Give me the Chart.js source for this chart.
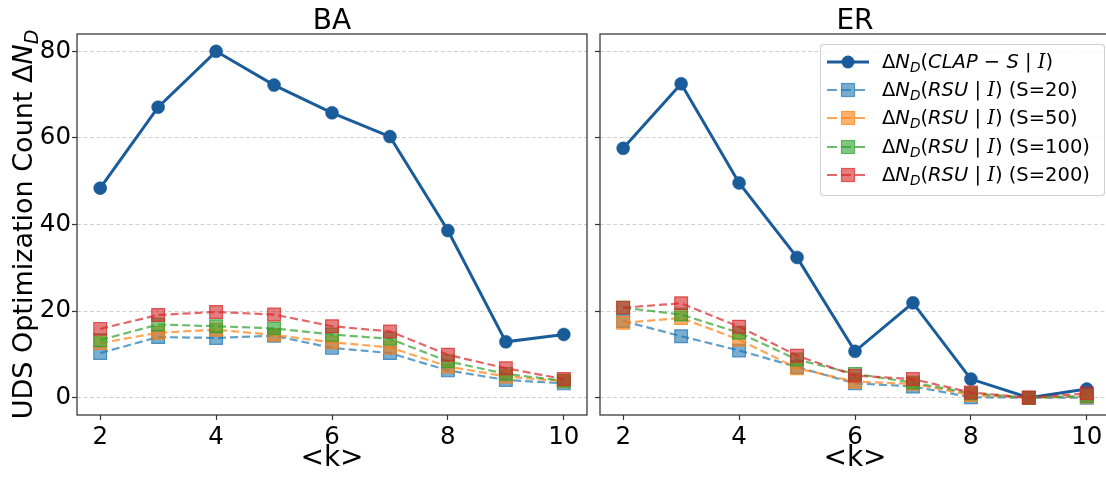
<!DOCTYPE html>
<html>
<head>
<meta charset="utf-8">
<script src="https://cdn.jsdelivr.net/npm/chart.js@4.4.1/dist/chart.umd.min.js"></script>
<style>
  html, body { margin: 0; padding: 0; background: #fff; overflow: hidden; }
  #wrap { position: relative; width: 1106px; height: 477px; overflow: hidden; }
  #leftChart { position: absolute; left: 0; top: 0; }
  #rightChart { position: absolute; left: 590px; top: 0; }
  .legend {
    position: absolute; left: 820px; top: 44px; width: 283px; height: 150px;
    border: 1px solid rgba(204, 204, 204, 0.9); border-radius: 4px;
    background: rgba(255, 255, 255, 0.8);
    font-family: "DejaVu Sans"; font-size: 19.5px; color: #000;
  }
  .row { position: absolute; left: 0; height: 28px; width: 100%; }
  .row svg { position: absolute; left: 6px; top: 6px; }
  .row .txt { position: absolute; left: 61px; top: 0; line-height: 28px; white-space: nowrap; }
  .txt i { font-style: italic; }
  .txt .cal { font-family: "DejaVu Serif"; font-style: italic; }
  .txt sub { font-size: 0.7em; font-style: italic; vertical-align: -0.3em; line-height: 0; }
</style>
</head>
<body>
<div id="wrap">
  <canvas id="leftChart" width="590" height="477"></canvas>
  <canvas id="rightChart" width="530" height="477"></canvas>
  <div class="legend" id="legend"></div>
</div>
<script>
// Data
const kValues = [2, 3, 4, 5, 6, 7, 8, 9, 10];
const xTicks = [2, 4, 6, 8, 10];
const yTicks = [0, 20, 40, 60, 80];
const panelTitles = ["BA", "ER"];
const sizeLabels = ["S=20", "S=50", "S=100", "S=200"];

// BA panel
const baClap = [48.4, 67.1, 80.0, 72.2, 65.8, 60.3, 38.6, 12.9, 14.6];
const baS20 = [10.3, 14.0, 13.8, 14.3, 11.5, 10.3, 6.3, 4.1, 3.3];
const baS50 = [12.6, 15.0, 15.7, 14.5, 12.8, 11.6, 7.2, 4.9, 3.8];
const baS100 = [13.3, 16.9, 16.5, 16.0, 14.6, 13.6, 8.4, 5.5, 3.9];
const baS200 = [15.9, 19.1, 19.8, 19.2, 16.5, 15.3, 9.9, 6.8, 4.3];

// ER panel
const erClap = [57.6, 72.5, 49.6, 32.4, 10.7, 21.9, 4.3, 0.0, 2.0];
const erS20 = [17.7, 14.2, 10.9, 7.1, 3.3, 2.6, 0.1, 0.0, 0.0];
const erS50 = [17.3, 18.4, 13.4, 6.8, 3.7, 3.2, 0.6, 0.0, 0.2];
const erS100 = [20.8, 19.2, 15.0, 8.8, 5.5, 3.5, 1.0, 0.0, 0.4];
const erS200 = [20.8, 21.8, 16.4, 9.7, 5.1, 4.3, 1.2, 0.0, 1.0];

// Colours
const clapColor = "#1a5c99";
const rsuColors = ["31,119,180", "255,127,14", "44,160,44", "214,39,40"];
const FONT = "DejaVu Sans";

const toPoints = (vals) => kValues.map((k, i) => ({ x: k, y: vals[i] }));

function buildDatasets(clap, rsuList) {
    const ds = [{
        label: "CLAP-S",
        data: toPoints(clap),
        borderColor: clapColor,
        backgroundColor: clapColor,
        borderWidth: 3,
        pointStyle: "circle",
        pointRadius: 6.5,
        pointBackgroundColor: clapColor,
        pointBorderColor: clapColor,
        pointBorderWidth: 0.5,
        order: 5
    }];
    rsuList.forEach((vals, i) => {
        const c = rsuColors[i];
        ds.push({
            label: sizeLabels[i],
            data: toPoints(vals),
            borderColor: `rgba(${c},0.7)`,
            backgroundColor: `rgba(${c},0.6)`,
            borderWidth: 2.2,
            borderDash: [8, 4],
            pointStyle: "rect",
            pointRadius: 9,
            pointBackgroundColor: `rgba(${c},0.6)`,
            pointBorderColor: `rgba(${c},0.75)`,
            pointBorderWidth: 1.2,
            order: 4 - i
        });
    });
    return ds;
}

// Frame + panel title
const framePlugin = {
    id: "frame",
    afterDraw(chart, args, opts) {
        const { ctx, chartArea: a } = chart;
        ctx.save();
        ctx.strokeStyle = "#333";
        ctx.lineWidth = 1.25;
        ctx.strokeRect(a.left, a.top, a.right - a.left, a.bottom - a.top);
        ctx.fillStyle = "#000";
        ctx.font = `28px "${FONT}"`;
        ctx.textAlign = "center";
        ctx.textBaseline = "alphabetic";
        ctx.fillText(opts.title, (a.left + a.right) / 2, 28.5);
        ctx.restore();
    }
};

// Rotated y label with subscript
const yLabelPlugin = {
    id: "yLabel",
    afterDraw(chart, args, opts) {
        if (!opts.show) return;
        const { ctx, chartArea: a } = chart;
        const parts = [
            { t: "UDS Optimization Count ", f: `27px "${FONT}"`, dy: 0 },
            { t: "Δ", f: `27px "${FONT}"`, dy: 0 },
            { t: "N", f: `italic 27px "${FONT}"`, dy: 0 },
            { t: "D", f: `italic 19px "${FONT}"`, dy: 6 }
        ];
        ctx.save();
        let total = 0;
        parts.forEach(p => { ctx.font = p.f; p.w = ctx.measureText(p.t).width; total += p.w; });
        ctx.translate(32, (a.top + a.bottom) / 2);
        ctx.rotate(-Math.PI / 2);
        ctx.fillStyle = "#000";
        ctx.textAlign = "left";
        ctx.textBaseline = "alphabetic";
        let x = -total / 2;
        parts.forEach(p => { ctx.font = p.f; ctx.fillText(p.t, x, p.dy); x += p.w; });
        ctx.restore();
    }
};

function makeChart(id, datasets, title, showY, yWidth, padRight) {
    return new Chart(document.getElementById(id), {
        type: "line",
        data: { datasets },
        plugins: [framePlugin, yLabelPlugin],
        options: {
            responsive: false,
            animation: false,
            devicePixelRatio: 1,
            layout: { autoPadding: false, padding: { top: 34, right: padRight, left: 0, bottom: 0 } },
            plugins: {
                legend: { display: false },
                tooltip: { enabled: false },
                frame: { title },
                yLabel: { show: showY }
            },
            elements: { line: { tension: 0 } },
            scales: {
                x: {
                    type: "linear",
                    min: 1.6,
                    max: 10.4,
                    afterBuildTicks: (s) => { s.ticks = xTicks.map(v => ({ value: v })); },
                    afterFit: (s) => { s.height = 62; s.paddingLeft = 0; s.paddingRight = 0; },
                    grid: { drawOnChartArea: false, drawTicks: true, tickLength: 5, tickColor: "#333", tickWidth: 1.2 },
                    border: { display: false },
                    ticks: { font: { family: FONT, size: 24.5 }, color: "#000", padding: 3, maxRotation: 0 },
                    title: { display: true, text: "<k>", font: { family: FONT, size: 28 }, color: "#000", padding: { top: 0, bottom: 1 } }
                },
                y: {
                    min: -4,
                    max: 84,
                    afterBuildTicks: (s) => { s.ticks = yTicks.map(v => ({ value: v })); },
                    afterFit: (s) => { s.width = yWidth; s.paddingTop = 0; s.paddingBottom = 0; },
                    grid: { color: "#d0d0d0", lineWidth: 1, drawTicks: true, tickLength: 5, tickColor: "#333", tickWidth: 1.2 },
                    border: { display: false, dash: [4, 2.5] },
                    ticks: {
                        font: { family: FONT, size: 24.5 },
                        color: "#000",
                        padding: 1,
                        callback: (v) => showY ? v : ""
                    }
                }
            }
        }
    });
}

makeChart("leftChart", buildDatasets(baClap, [baS20, baS50, baS100, baS200]), panelTitles[0], true, 77, 3);
makeChart("rightChart", buildDatasets(erClap, [erS20, erS50, erS100, erS200]), panelTitles[1], false, 10, 10);

// HTML legend (rich text for the math labels)
const legendEl = document.getElementById("legend");
const rowTops = [2.7, 31, 59.3, 87.7, 116];
const mathHead = 'Δ<i>N</i><sub>D</sub>';
const calI = '<span class="cal">I</span>';
const entries = [
    { html: `${mathHead}(<i>CLAP</i> − <i>S</i> | ${calI})`, color: clapColor, dash: "", marker: "circle" },
    ...sizeLabels.map((s, i) => ({
        html: `${mathHead}(<i>RSU</i> | ${calI}) (${s})`,
        color: `rgba(${rsuColors[i]},0.7)`, fill: `rgba(${rsuColors[i]},0.6)`, dash: "10,4", marker: "rect"
    }))
];
entries.forEach((e, i) => {
    const row = document.createElement("div");
    row.className = "row";
    row.style.top = rowTops[i] + "px";
    const mark = e.marker === "circle"
        ? `<circle cx="21" cy="8" r="6.5" fill="${e.color}"/>`
        : `<rect x="14.5" y="1.5" width="13" height="13" fill="${e.fill}" stroke="${e.color}" stroke-width="1.2"/>`;
    const line = e.marker === "circle"
        ? `<line x1="0" y1="8" x2="42" y2="8" stroke="${e.color}" stroke-width="3"/>`
        : `<line x1="0" y1="8" x2="42" y2="8" stroke="${e.color}" stroke-width="2.2" stroke-dasharray="${e.dash}"/>`;
    row.innerHTML = `<svg width="42" height="16">${line}${mark}</svg><span class="txt">${e.html}</span>`;
    legendEl.appendChild(row);
});
</script>
</body>
</html>
